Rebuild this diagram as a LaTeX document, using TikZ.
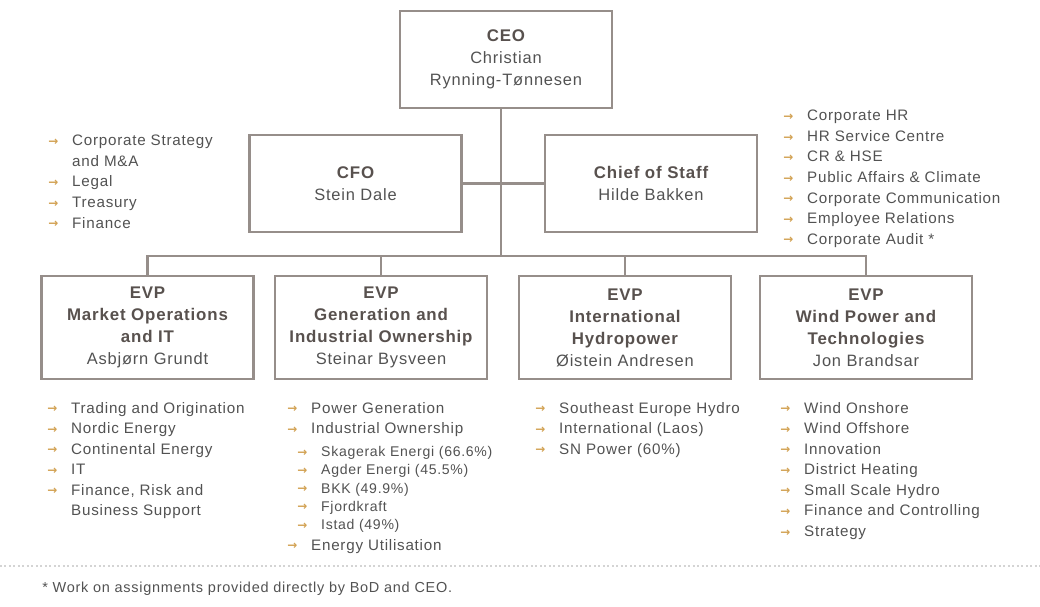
\documentclass[tikz,border=0pt]{standalone}
\usepackage{fontspec}
\setmainfont{Liberation Sans}[LetterSpace=5]
\newfontfamily\arrowfont{DejaVu Sans}
\usetikzlibrary{positioning}

\definecolor{txtgray}{RGB}{82,82,82}
\definecolor{headgray}{RGB}{88,81,78}
\definecolor{boxline}{RGB}{150,142,138}
\definecolor{arrowtan}{RGB}{210,162,84}
\definecolor{dotgray}{RGB}{212,212,212}

\newcommand{\itemarrow}{\makebox[17pt][l]{\raisebox{0.3pt}{\color{arrowtan}\arrowfont\bfseries\fontsize{8.5}{8.5}\selectfont →}}}
\newcommand{\hd}[1]{{\fontsize{12}{15.6}\selectfont\bfseries\color{headgray}#1}}

\tikzset{
  box/.style={draw=boxline, line width=1.5pt, minimum width=5.3cm, minimum height=2.425cm,
    align=center, text=txtgray, font=\fontsize{11.7}{15.6}\selectfont},
  evpbox/.style={box, minimum height=2.575cm},
  list/.style={anchor=north west, inner sep=0pt, align=left, text=txtgray,
    font=\fontsize{10.8}{14.6}\selectfont},
  sublist/.style={list, font=\fontsize{10}{13}\selectfont},
  link/.style={draw=boxline, line width=1.5pt}
}

\begin{document}
\begin{tikzpicture}[x=0.025cm,y=-0.025cm]
    \useasboundingbox (0,0) rectangle (1040,606);

    % top management
    \node[box] (ceo) at (506,59.5) {\hd{CEO}\\Christian\\Rynning-Tønnesen};
    \node[box] (cfo) at (355.5,183.5) {\hd{CFO}\\Stein Dale};
    \node[box] (cos) at (651,183.5) {\hd{Chief of Staff}\\Hilde Bakken};

    % business areas
    \node[evpbox] (evp1) at (147.5,327.5) {\hd{EVP}\\\hd{Market Operations}\\\hd{and IT}\\Asbjørn Grundt};
    \node[evpbox] (evp2) at (381,327.5) {\hd{EVP}\\\hd{Generation and}\\\hd{Industrial Ownership}\\Steinar Bysveen};
    \node[evpbox] (evp3) at (625,327.5) {\hd{EVP}\\\hd{International}\\\hd{Hydropower}\\Øistein Andresen};
    \node[evpbox] (evp4) at (866,327.5) {\hd{EVP}\\\hd{Wind Power and}\\\hd{Technologies}\\Jon Brandsar};

    \coordinate (hub) at (501,256);
    \draw[link] (ceo.south -| hub) -- (hub);
    \draw[link] (cfo.east) -- (cos.west);
    \draw[link] (evp1.north) |- (hub) -| (evp4.north);
    \draw[link] (evp2.north) -- (evp2.north |- hub);
    \draw[link] (evp3.north) -- (evp3.north |- hub);

    % staff functions
    \node[list] (cfolist) at (48,135) {\itemarrow Corporate Strategy\\\hspace*{17pt}and M\&A\\\itemarrow Legal\\\itemarrow Treasury\\\itemarrow Finance};
    \node[list] (coslist) at (783,110) {\itemarrow Corporate HR\\\itemarrow HR Service Centre\\\itemarrow CR \& HSE\\\itemarrow Public Affairs \& Climate\\\itemarrow Corporate Communication\\\itemarrow Employee Relations\\\itemarrow Corporate Audit *};

    % units below each EVP
    \node[list] (list1) at (47,402) {\itemarrow Trading and Origination\\\itemarrow Nordic Energy\\\itemarrow Continental Energy\\\itemarrow IT\\\itemarrow Finance, Risk and\\\hspace*{17pt}Business Support};
    \node[list] (list2) at (287,402) {\itemarrow Power Generation\\\itemarrow Industrial Ownership};
    \node[sublist] (sub2) at (297,446) {\itemarrow Skagerak Energi (66.6\%)\\\itemarrow Agder Energi (45.5\%)\\\itemarrow BKK (49.9\%)\\\itemarrow Fjordkraft\\\itemarrow Istad (49\%)};
    \node[list] (list2b) at (287,539) {\itemarrow Energy Utilisation};
    \node[list] (list3) at (535,402) {\itemarrow Southeast Europe Hydro\\\itemarrow International (Laos)\\\itemarrow SN Power (60\%)};
    \node[list] (list4) at (780,402) {\itemarrow Wind Onshore\\\itemarrow Wind Offshore\\\itemarrow Innovation\\\itemarrow District Heating\\\itemarrow Small Scale Hydro\\\itemarrow Finance and Controlling\\\itemarrow Strategy};

    \draw[dotgray, dotted, line width=1.2pt] (0,566) -- (1040,566);
    \node[anchor=west, inner sep=0pt, text=txtgray, font=\fontsize{10.3}{12}\selectfont] (note) at (42,589) {* Work on assignments provided directly by BoD and CEO.};
\end{tikzpicture}
\end{document}
